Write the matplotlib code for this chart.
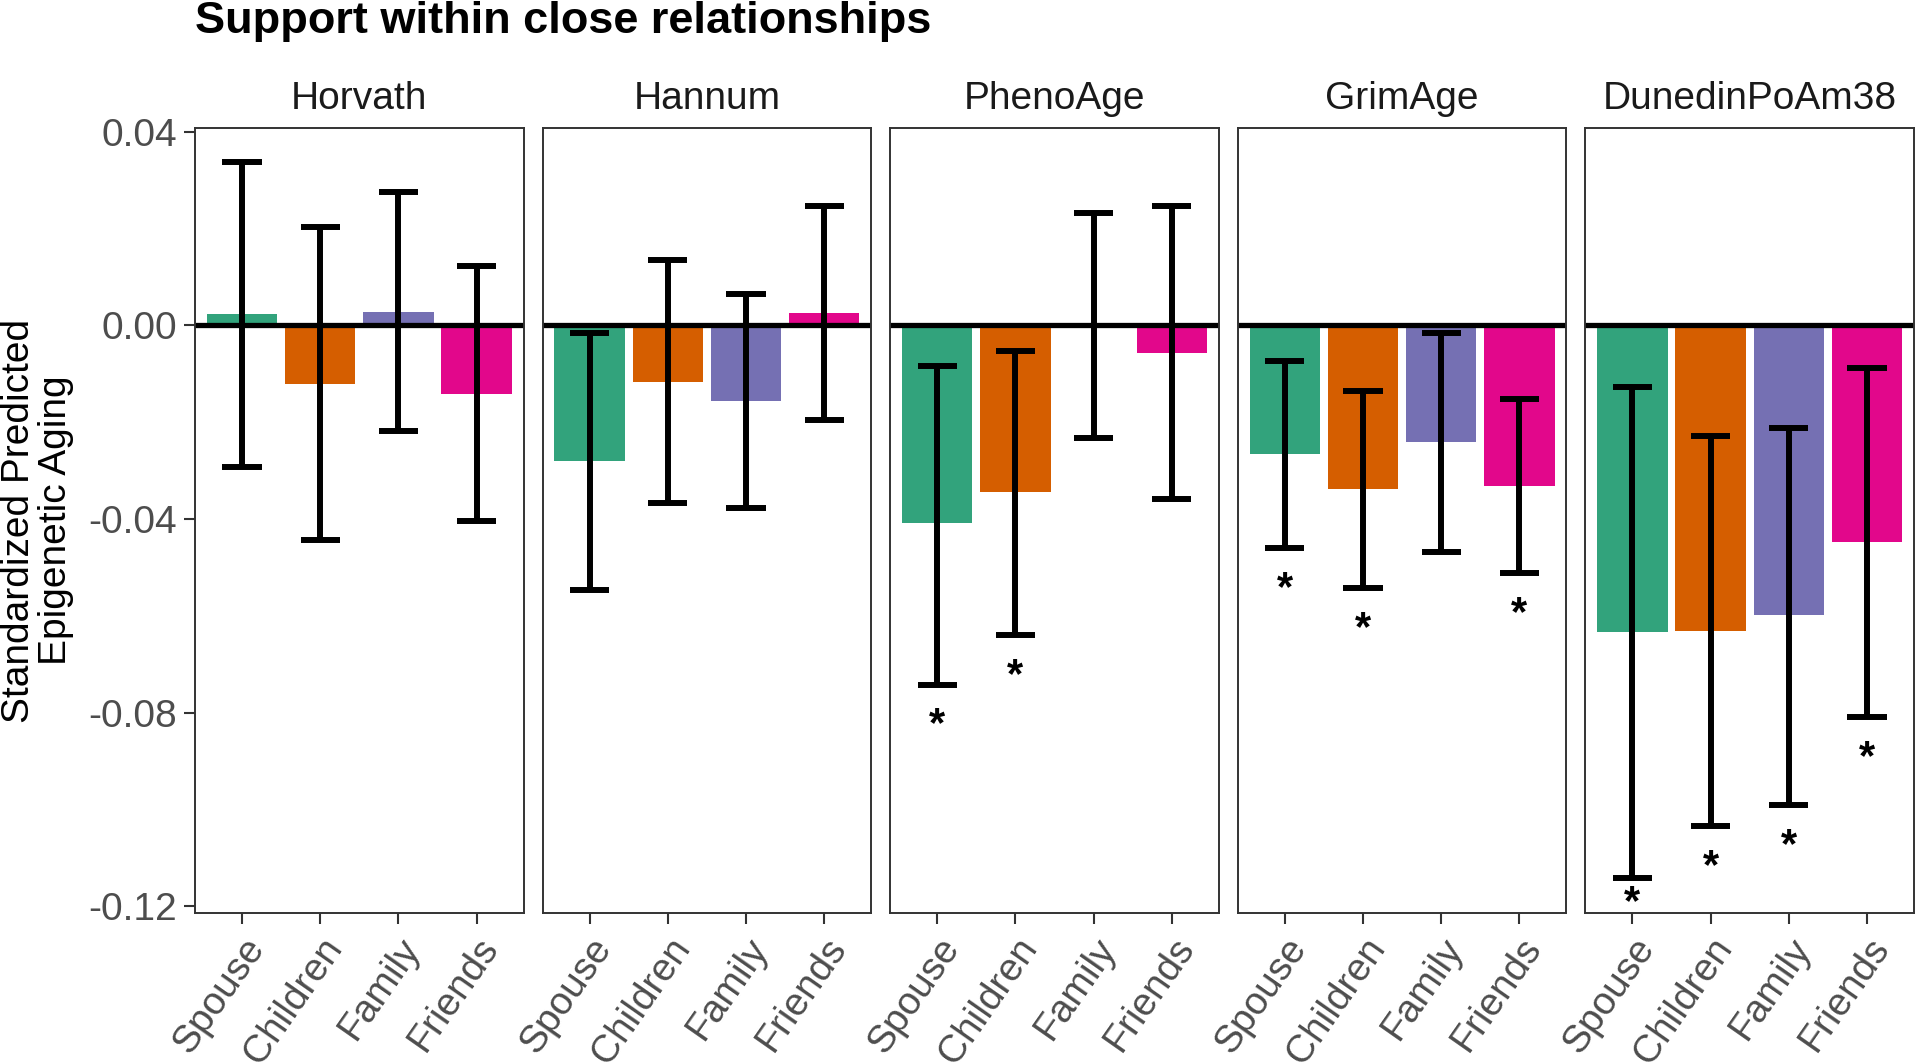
import numpy as np
import matplotlib
matplotlib.use('Agg')
import matplotlib.pyplot as plt

plt.rcParams['font.family'] = ['Liberation Sans', 'DejaVu Sans']

clocks = ['Horvath', 'Hannum', 'PhenoAge', 'GrimAge', 'DunedinPoAm38']
relations = ['Spouse', 'Children', 'Family', 'Friends']
bar_colors = ['#32A37C', '#D55E00', '#7570B3', '#E2078B']

# point estimates per clock (Spouse, Children, Family, Friends)
estimate = [
    [0.0023, -0.0121, 0.0027, -0.0142],
    [-0.0280, -0.0116, -0.0157, 0.0025],
    [-0.0409, -0.0345, 0.0000, -0.0057],
    [-0.0265, -0.0337, -0.0240, -0.0331],
    [-0.0633, -0.0631, -0.0599, -0.0447],
]
ci_low = [
    [-0.0292, -0.0443, -0.0218, -0.0404],
    [-0.0547, -0.0367, -0.0377, -0.0195],
    [-0.0742, -0.0639, -0.0233, -0.0359],
    [-0.0460, -0.0543, -0.0468, -0.0512],
    [-0.1141, -0.1035, -0.0990, -0.0809],
]
ci_high = [
    [0.0338, 0.0204, 0.0275, 0.0122],
    [-0.0016, 0.0135, 0.0064, 0.0247],
    [-0.0083, -0.0053, 0.0233, 0.0247],
    [-0.0073, -0.0135, -0.0016, -0.0151],
    [-0.0127, -0.0228, -0.0211, -0.0087],
]
significant = [
    [0, 0, 0, 0],
    [0, 0, 0, 0],
    [1, 1, 0, 0],
    [1, 1, 0, 1],
    [1, 1, 1, 1],
]
y_ticks = [0.04, 0.00, -0.04, -0.08, -0.12]
y_lim = (-0.1214, 0.0408)

W, H = 1920, 1064
fig = plt.figure(figsize=(W / 100, H / 100), dpi=100)

left, pw, gap = 195, 328.6, 19
top, bottom = 128, 913
x = np.arange(len(relations))

# star gap below the lower CI, in data units (~21 px), kept inside the panel
px_per_unit = (bottom - top) / (y_lim[1] - y_lim[0])
star_gap = 21 / px_per_unit
star_floor = y_lim[0] + 30 / px_per_unit

for i, clock in enumerate(clocks):
    x0 = left + i * (pw + gap)
    ax = fig.add_axes([x0 / W, 1 - bottom / H, pw / W, (bottom - top) / H])
    ax.bar(x, estimate[i], width=0.9, color=bar_colors, zorder=1)
    ax.axhline(0, color='black', lw=3.8, zorder=2)
    ax.vlines(x, ci_low[i], ci_high[i], color='black', lw=4.3, zorder=3)
    ax.hlines(ci_low[i], x - 0.25, x + 0.25, color='black', lw=4.3, zorder=3, capstyle='butt')
    ax.hlines(ci_high[i], x - 0.25, x + 0.25, color='black', lw=4.3, zorder=3, capstyle='butt')
    for j in range(len(relations)):
        if significant[i][j]:
            ys = max(ci_low[i][j] - star_gap, star_floor)
            ax.text(x[j], ys, '*', ha='center', va='top',
                    fontsize=30, fontweight='bold', color='black')

    ax.set_xlim(-0.6, len(relations) - 0.4)
    ax.set_ylim(*y_lim)
    ax.set_xticks(x)
    ax.set_xticklabels(relations, rotation=55, ha='right', va='top',
                       rotation_mode='anchor', fontsize=28, color='#4D4D4D')
    ax.set_yticks(y_ticks)
    if i == 0:
        ax.set_yticklabels([f'{v:.2f}' for v in y_ticks], fontsize=28, color='#4D4D4D')
        ax.set_ylabel('Standardized Predicted\nEpigenetic Aging', fontsize=28,
                      labelpad=10, linespacing=1.05)
    else:
        ax.tick_params(axis='y', left=False, labelleft=False)
    ax.tick_params(axis='both', length=8, width=1.5, color='#333333', pad=5)
    for sp in ax.spines.values():
        sp.set_color('#333333')
        sp.set_linewidth(1.4)
    ax.set_title(clock, fontsize=28, color='#1A1A1A', pad=14)

fig.text(left / W, 1 - 33 / H, 'Support within close relationships',
         fontsize=32.5, fontweight='bold', ha='left', va='baseline')

fig.savefig('out.png', dpi=100)
